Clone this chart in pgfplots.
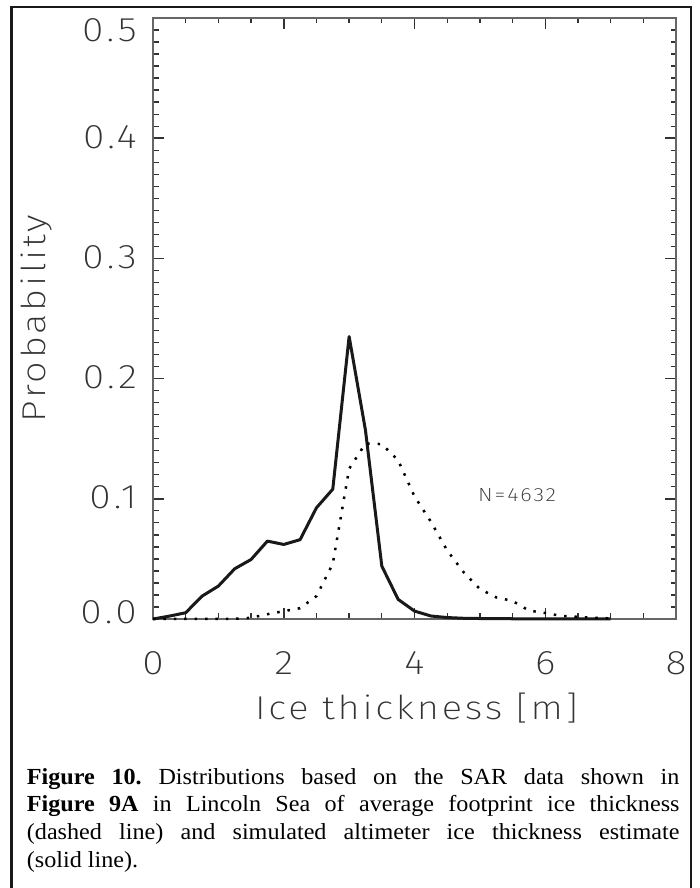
\documentclass[border=0pt]{standalone}
\usepackage{pgfplots}
\pgfplotsset{compat=1.18}
\usepackage{fontspec}
\setmainfont{Liberation Serif}
\IfFontExistsTF{Fira Sans ExtraLight}{%
  \newfontfamily\hfont{Fira Sans ExtraLight}[FakeStretch=1.15, LetterSpace=10]%
  \newfontfamily\lfont{Fira Sans ExtraLight}[FakeStretch=1.15, LetterSpace=8.5]%
  \newfontfamily\nfont{Fira Sans ExtraLight}[FakeStretch=1.15, LetterSpace=10]}{%
  \newfontfamily\hfont{Fira Sans Light}[FakeStretch=1.15, LetterSpace=10]%
  \newfontfamily\lfont{Fira Sans Light}[FakeStretch=1.15, LetterSpace=8.5]%
  \newfontfamily\nfont{Fira Sans Light}[FakeStretch=1.15, LetterSpace=10]}
\newfontfamily\capfont{Liberation Serif}[FakeStretch=1.05]

\pgfplotstableread{
x y
0 0
0.25 0.0024
0.5 0.0052
0.75 0.019
1.0 0.0274
1.25 0.0418
1.5 0.0495
1.75 0.0648
2.0 0.062
2.25 0.066
2.5 0.0925
2.75 0.108
3.0 0.235
3.25 0.157
3.5 0.044
3.75 0.0163
4.0 0.0066
4.25 0.0025
4.5 0.0012
4.75 0.0006
5.0 0.0004
5.25 0.0003
5.5 0.0002
5.75 0.0002
6.0 0.0001
6.25 0.0001
6.5 0.0001
6.75 0.0001
7.0 0.0001
}\solid

\pgfplotstableread{
x y
0 0
0.25 0
0.5 0
0.75 0
1.0 0
1.25 0.0002
1.5 0.001
1.75 0.004
2.0 0.0065
2.25 0.009
2.5 0.019
2.75 0.046
3.0 0.125
3.25 0.146
3.5 0.1455
3.75 0.132
4.0 0.102
4.25 0.081
4.5 0.057
4.75 0.039
5.0 0.025
5.25 0.018
5.5 0.015
5.75 0.007
6.0 0.005
6.25 0.0025
6.5 0.0018
6.75 0.001
7.0 0.0005
}\dotted

\newcommand{\yl}[1]{\raisebox{-10pt}{#1}}
\newcommand{\tfont}{\hfont\fontsize{34}{34}\selectfont}

\begin{document}
\frenchspacing
\begin{tikzpicture}
\useasboundingbox (0,0) rectangle (699pt,888pt);
\draw[line width=2.7pt, black!90] (11.5pt,-20pt) -- (11.5pt,881pt) -- (691pt,881pt) -- (691pt,-20pt);
\begin{axis}[
  at={(153pt,269pt)}, anchor=south west,
  scale only axis, width=523pt, height=601pt,
  xmin=0, xmax=8, ymin=0, ymax=0.5,
  xtick={0,2,4,6,8}, xticklabels={},
  ytick={0,0.1,0.2,0.3,0.4,0.5},
  yticklabels={\raisebox{-5pt}{0.0},\yl{0.1},\yl{0.2},\yl{0.3},\yl{0.4},\raisebox{-24pt}{0.5}},
  minor x tick num=3, minor y tick num=9,
  tick align=inside, xtick pos=both, ytick pos=both,
  major tick length=11pt, minor tick length=5.5pt,
  major tick style={black!80, line width=1.5pt},
  minor tick style={black!80, line width=1.3pt},
  axis line style={color=black!60, line width=1.6pt},
  tick label style={font=\tfont, text=black!80},
  yticklabel style={anchor=base east, inner sep=0pt, xshift=-16pt},
  clip=false,
]
\addplot[black!90, line width=3pt, line join=round] table[x=x,y=y] {\solid};
\addplot[black, line width=2.5pt, line cap=butt, dash pattern=on 2.5pt off 7.9pt] table[x=x,y=y] {\dotted};
\node[font=\nfont\fontsize{19}{19}\selectfont, text=black!80, inner sep=0pt] at (axis cs:5.57,0.103) {N=4632};
\node[font=\tfont, text=black!80, inner sep=0pt, anchor=base] at (axis cs:0,-0.04576) {0};
\node[font=\tfont, text=black!80, inner sep=0pt, anchor=base] at (axis cs:2,-0.04576) {2};
\node[font=\tfont, text=black!80, inner sep=0pt, anchor=base] at (axis cs:4,-0.04576) {4};
\node[font=\tfont, text=black!80, inner sep=0pt, anchor=base] at (axis cs:6,-0.04576) {6};
\node[font=\tfont, text=black!80, inner sep=0pt, anchor=base] at (axis cs:8,-0.04576) {8};
\node[font=\lfont\fontsize{33}{33}\selectfont, text=black!80, inner sep=0pt, anchor=base] at (axis cs:4.03,-0.0840) {Ice thickness [m]};
\node[font=\lfont\fontsize{33}{33}\selectfont, text=black!80, inner sep=0pt, anchor=base, rotate=90] at (axis cs:-1.652,0.25) {Probability};
\end{axis}
\node[anchor=base west, inner sep=0pt] at (26.7pt,103pt) {\capfont\fontsize{23}{23}\selectfont\makebox[652.6pt][s]{\textbf{Figure 10.} Distributions based on the SAR data shown in}};
\node[anchor=base west, inner sep=0pt] at (26.7pt,76pt) {\capfont\fontsize{23}{23}\selectfont\makebox[652.6pt][s]{\textbf{Figure 9A} in Lincoln Sea of average footprint ice thickness}};
\node[anchor=base west, inner sep=0pt] at (26.7pt,48pt) {\capfont\fontsize{23}{23}\selectfont\makebox[652.6pt][s]{(dashed line) and simulated altimeter ice thickness estimate}};
\node[anchor=base west, inner sep=0pt] at (26.7pt,20pt) {\capfont\fontsize{23}{23}\selectfont (solid line).};
\end{tikzpicture}
\end{document}
